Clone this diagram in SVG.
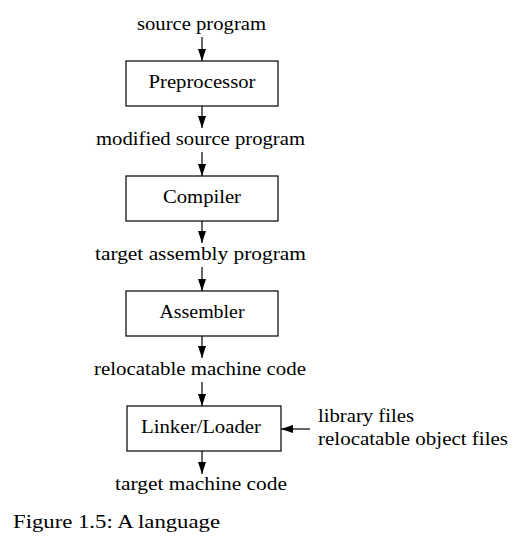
<svg xmlns="http://www.w3.org/2000/svg" width="516" height="560" viewBox="0 0 516 560">
<style>
.t{font-family:Liberation Serif,serif;font-size:18px;fill:#000}
.box{fill:#fff;stroke:#000;stroke-width:1.2}
.arr{stroke:#000;stroke-width:1.2;fill:none;marker-end:url(#ah)}
</style>
<defs>
<marker id="ah" viewBox="0 0 12 8" refX="12" refY="4" markerWidth="12" markerHeight="8" markerUnits="userSpaceOnUse" orient="auto">
<path d="M0,0 L12,4 L0,8 Z" fill="#000"/>
</marker>
</defs>
<rect width="516" height="560" fill="#fff"/>
<g id="labels">
<text class="t" x="201.5" y="30" text-anchor="middle" textLength="129" lengthAdjust="spacingAndGlyphs">source program</text>
<text class="t" x="200.5" y="145" text-anchor="middle" textLength="209" lengthAdjust="spacingAndGlyphs">modified source program</text>
<text class="t" x="200.5" y="260" text-anchor="middle" textLength="211" lengthAdjust="spacingAndGlyphs">target assembly program</text>
<text class="t" x="200" y="375" text-anchor="middle" textLength="212" lengthAdjust="spacingAndGlyphs">relocatable machine code</text>
<text class="t" x="201" y="490" text-anchor="middle" textLength="172" lengthAdjust="spacingAndGlyphs">target machine code</text>
</g>
<g id="preprocessor">
<rect class="box" x="126" y="61" width="152" height="45"/>
<text class="t" x="202" y="88" text-anchor="middle" textLength="107" lengthAdjust="spacingAndGlyphs">Preprocessor</text>
</g>
<g id="compiler">
<rect class="box" x="126" y="176" width="152" height="45"/>
<text class="t" x="202" y="203" text-anchor="middle" textLength="78" lengthAdjust="spacingAndGlyphs">Compiler</text>
</g>
<g id="assembler">
<rect class="box" x="126" y="291" width="152" height="45"/>
<text class="t" x="202" y="318" text-anchor="middle" textLength="85" lengthAdjust="spacingAndGlyphs">Assembler</text>
</g>
<g id="linker">
<rect class="box" x="127" y="406" width="154" height="45"/>
<text class="t" x="201" y="433" text-anchor="middle" textLength="120" lengthAdjust="spacingAndGlyphs">Linker/Loader</text>
</g>
<g id="libs">
<text class="t" x="318" y="422" textLength="96" lengthAdjust="spacingAndGlyphs">library files</text>
<text class="t" x="318" y="445" textLength="190" lengthAdjust="spacingAndGlyphs">relocatable object files</text>
</g>
<g id="connectors">
<line class="arr" x1="202" y1="37" x2="202" y2="61"/>
<line class="arr" x1="202" y1="106" x2="202" y2="128"/>
<line class="arr" x1="202" y1="152" x2="202" y2="176"/>
<line class="arr" x1="202" y1="221" x2="202" y2="243"/>
<line class="arr" x1="202" y1="267" x2="202" y2="291"/>
<line class="arr" x1="202" y1="336" x2="202" y2="358"/>
<line class="arr" x1="202" y1="382" x2="202" y2="406"/>
<line class="arr" x1="202" y1="451" x2="202" y2="474"/>
<line class="arr" x1="310" y1="429" x2="281" y2="429"/>
</g>
<text class="t" x="13" y="528" textLength="207" lengthAdjust="spacingAndGlyphs">Figure 1.5: A language</text>
</svg>
